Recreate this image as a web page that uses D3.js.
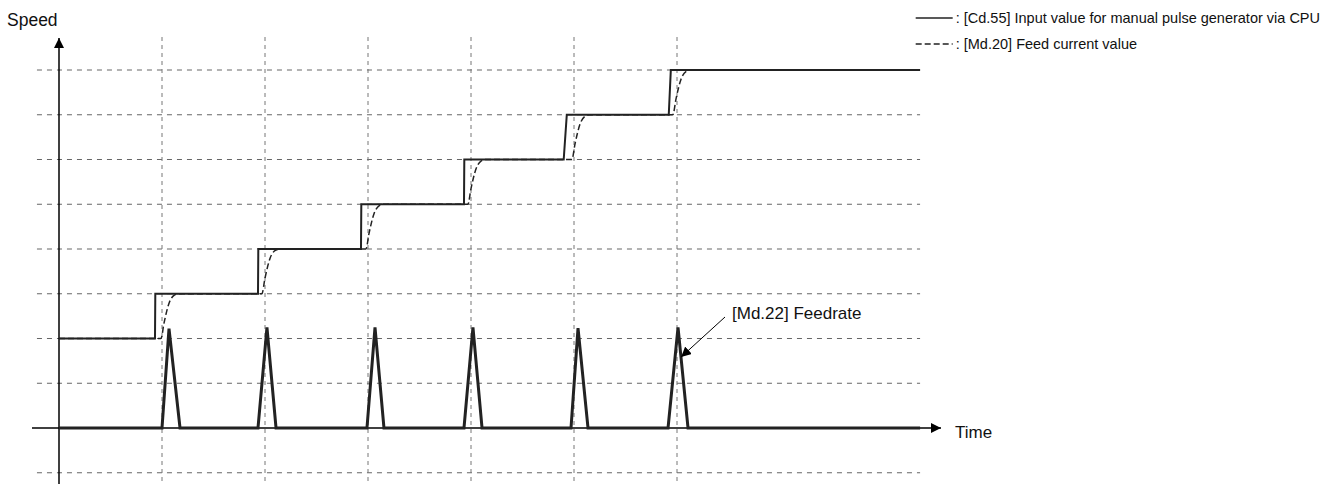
<!DOCTYPE html>
<html>
<head>
<meta charset="UTF-8">
<title>Manual pulse generator speed</title>
<script src="https://d3js.org/d3.v7.min.js"></script>
<style>
  body { margin: 0; background: #fff; }
  text { font-family: "Liberation Sans", Arial, sans-serif; fill: #111; }
</style>
</head>
<body>
<script>
// grid positions (time units / speed units)
var timeGrid = [1, 2, 3, 4, 5, 6];
var speedGrid = [-1, 1, 2, 3, 4, 5, 6, 7, 8];

// [Cd.55] input value: stair steps [time, speed]
var inputValue = [
  [0, 2], [0.932, 2], [0.935, 3], [1.932, 3], [1.935, 4],
  [2.932, 4], [2.935, 5], [3.932, 5], [3.935, 6],
  [4.90, 6], [4.93, 7], [5.92, 7], [5.94, 8], [8.36, 8]
];

// [Md.20] feed current value: lags behind each step
var feedCurrent = [
  [0, 2], [0.99, 2], [1.02, 2.35], [1.07, 2.8], [1.12, 2.97], [1.16, 3],
  [1.97, 3], [2.0, 3.35], [2.05, 3.8], [2.10, 3.97], [2.14, 4],
  [2.98, 4], [3.01, 4.35], [3.06, 4.8], [3.11, 4.97], [3.15, 5],
  [3.97, 5], [4.0, 5.35], [4.05, 5.8], [4.10, 5.97], [4.14, 6],
  [4.98, 6], [5.01, 6.35], [5.06, 6.8], [5.11, 6.97], [5.15, 7],
  [5.96, 7], [5.99, 7.35], [6.04, 7.8], [6.09, 7.97], [6.13, 8],
  [8.36, 8]
];

// [Md.22] feedrate: pulses at each step
var feedrate = [
  [0, 0], [1.0, 0], [1.068, 2.22], [1.175, 0],
  [1.932, 0], [2.019, 2.25], [2.107, 0],
  [2.99, 0], [3.068, 2.25], [3.155, 0],
  [3.932, 0], [4.019, 2.25], [4.107, 0],
  [4.971, 0], [5.039, 2.23], [5.136, 0],
  [5.913, 0], [6.01, 2.25], [6.107, 0],
  [8.36, 0]
];

var legendLabels = [": [Cd.55] Input value for manual pulse generator via CPU", ": [Md.20] Feed current value"];

var W = 1335, H = 484;

var x = d3.scaleLinear().domain([0, 8]).range([59, 883]);
var y = d3.scaleLinear().domain([0, 8]).range([428, 70]);

var svg = d3.select("body").append("svg")
  .attr("width", W).attr("height", H);

// arrow marker
var defs = svg.append("defs");
defs.append("marker")
  .attr("id", "arr")
  .attr("viewBox", "0 0 10 10")
  .attr("refX", 10).attr("refY", 5)
  .attr("markerWidth", 10).attr("markerHeight", 10)
  .attr("markerUnits", "userSpaceOnUse")
  .attr("orient", "auto")
  .append("path").attr("d", "M0,0 L10,5 L0,10 Z").attr("fill", "#000");

// grid lines
svg.append("g").selectAll("line").data(speedGrid).join("line")
  .attr("x1", x(-0.214)).attr("x2", x(8.36))
  .attr("y1", function(d) { return y(d); })
  .attr("y2", function(d) { return y(d); })
  .attr("stroke", "#666").attr("stroke-width", 1)
  .attr("stroke-dasharray", "5,5");

svg.append("g").selectAll("line").data(timeGrid).join("line")
  .attr("x1", function(d) { return x(d); })
  .attr("x2", function(d) { return x(d); })
  .attr("y1", 37).attr("y2", H)
  .attr("stroke", "#777").attr("stroke-width", 1)
  .attr("stroke-dasharray", "4,4");

// axes
svg.append("line")
  .attr("x1", x(0)).attr("x2", x(0))
  .attr("y1", H).attr("y2", 38)
  .attr("stroke", "#000").attr("stroke-width", 1.5)
  .attr("marker-end", "url(#arr)");

svg.append("line")
  .attr("x1", 32).attr("x2", 941)
  .attr("y1", y(0)).attr("y2", y(0))
  .attr("stroke", "#000").attr("stroke-width", 1.5)
  .attr("marker-end", "url(#arr)");

svg.append("text").attr("x", 7).attr("y", 26)
  .style("font-size", "17.5px").text("Speed");
svg.append("text").attr("x", 955).attr("y", 438)
  .style("font-size", "17px").text("Time");

var line = d3.line()
  .x(function(d) { return x(d[0]); })
  .y(function(d) { return y(d[1]); });

// feedrate pulses
svg.append("path").datum(feedrate)
  .attr("d", line)
  .attr("fill", "none").attr("stroke", "#222")
  .attr("stroke-width", 3).attr("stroke-linejoin", "miter");

// feed current value (dashed)
svg.append("path").datum(feedCurrent)
  .attr("d", line.curve(d3.curveMonotoneX))
  .attr("fill", "none").attr("stroke", "#222")
  .attr("stroke-width", 1.5).attr("stroke-dasharray", "6,3");

// input value (solid steps)
svg.append("path").datum(inputValue)
  .attr("d", line.curve(d3.curveLinear))
  .attr("fill", "none").attr("stroke", "#222")
  .attr("stroke-width", 2);

// feedrate annotation
svg.append("line")
  .attr("x1", 725).attr("y1", 317)
  .attr("x2", x(6.04)).attr("y2", 357)
  .attr("stroke", "#000").attr("stroke-width", 1)
  .attr("marker-end", "url(#arr)");
svg.append("text").attr("x", 732).attr("y", 319)
  .style("font-size", "17px").text("[Md.22] Feedrate");

// legend
var leg = svg.append("g");
var t1 = leg.append("text").attr("x", 1320).attr("y", 23)
  .attr("text-anchor", "end").style("font-size", "14.5px")
  .text(legendLabels[0]);
var startX = 1320 - t1.node().getComputedTextLength();
leg.append("text").attr("x", startX).attr("y", 49)
  .style("font-size", "14.5px").text(legendLabels[1]);
leg.append("line")
  .attr("x1", startX - 40).attr("x2", startX - 3)
  .attr("y1", 18).attr("y2", 18)
  .attr("stroke", "#222").attr("stroke-width", 1.5);
leg.append("line")
  .attr("x1", startX - 40).attr("x2", startX - 3)
  .attr("y1", 44).attr("y2", 44)
  .attr("stroke", "#222").attr("stroke-width", 1.5)
  .attr("stroke-dasharray", "6,3");
</script>
</body>
</html>
